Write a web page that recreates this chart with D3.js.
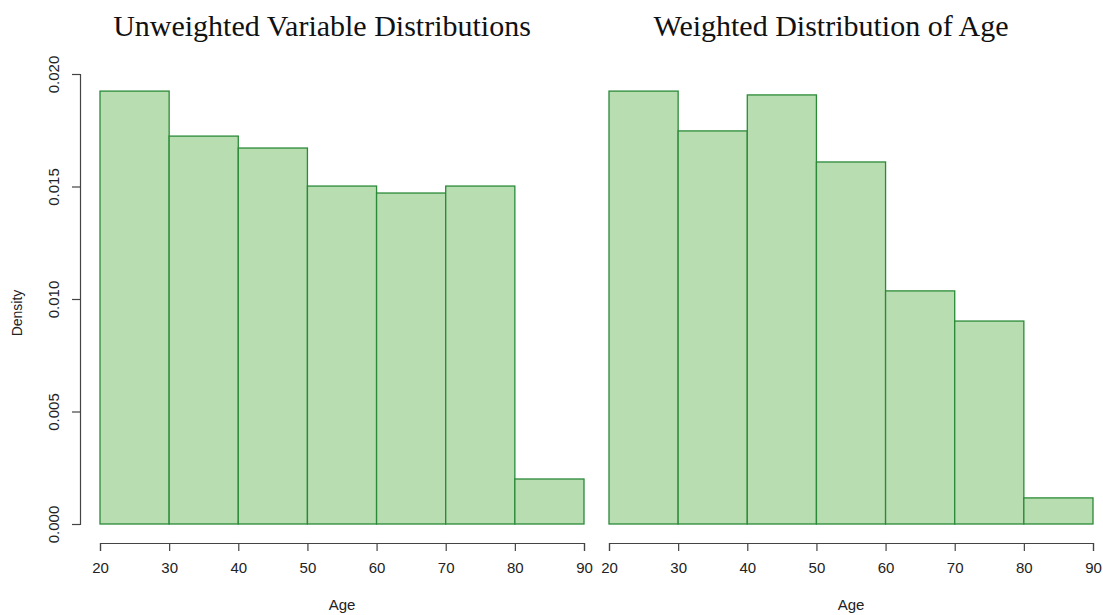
<!DOCTYPE html>
<html>
<head>
<meta charset="utf-8">
<script src="https://cdn.jsdelivr.net/npm/d3@7"></script>
<style>
  body { margin: 0; background: #fff; }
  svg { display: block; }
</style>
</head>
<body>
<svg id="chart" width="1103" height="615"></svg>
<script>
const binEdges = [20, 30, 40, 50, 60, 70, 80, 90];
const unweightedDensity = [0.01924, 0.01724, 0.01671, 0.01502, 0.01471, 0.01502, 0.00200];
const weightedDensity = [0.01924, 0.01747, 0.01907, 0.01609, 0.01036, 0.00902, 0.00116];
const xTicks = [20, 30, 40, 50, 60, 70, 80, 90];
const yTicks = [0.000, 0.005, 0.010, 0.015, 0.020];
const titles = ["Unweighted Variable Distributions", "Weighted Distribution of Age"];
const xLabel = "Age";
const yLabel = "Density";

const svg = d3.select("#chart");
const fill = "#b8ddb0";
const stroke = "#2a8a38";
const axisColor = "#444";
const sans = "Liberation Sans, Arial, sans-serif";

const y = d3.scaleLinear().domain([0, 0.02]).range([524, 74]);

const panels = [
  { data: unweightedDensity, x0: 100, x1: 584, title: titles[0], showY: true },
  { data: weightedDensity, x0: 609, x1: 1093, title: titles[1], showY: false }
];

panels.forEach(p => {
  const x = d3.scaleLinear().domain([20, 90]).range([p.x0, p.x1]);
  const g = svg.append("g");
  const bins = p.data.map((d, i) => ({ lo: binEdges[i], hi: binEdges[i + 1], v: d }));
  g.selectAll("rect").data(bins).join("rect")
    .attr("x", d => x(d.lo))
    .attr("y", d => y(d.v))
    .attr("width", d => x(d.hi) - x(d.lo))
    .attr("height", d => y(0) - y(d.v))
    .attr("fill", fill)
    .attr("stroke", stroke)
    .attr("stroke-width", 1.3);

  // x axis
  const xa = g.append("g").attr("transform", "translate(0,543)")
    .call(d3.axisBottom(x).tickValues(xTicks).tickSize(8).tickPadding(11).tickFormat(d3.format("d")));
  xa.select(".domain").attr("stroke", axisColor).attr("stroke-width", 1.2);
  xa.selectAll(".tick line").attr("stroke", axisColor).attr("stroke-width", 1.2);
  xa.selectAll(".tick text").attr("font-family", sans).attr("font-size", 15).attr("fill", "#222");

  g.append("text").attr("x", (p.x0 + p.x1) / 2).attr("y", 610)
    .attr("text-anchor", "middle")
    .attr("font-family", sans).attr("font-size", 15).attr("fill", "#222")
    .text(xLabel);

  g.append("text").attr("x", (p.x0 + p.x1) / 2 - 20).attr("y", 36)
    .attr("text-anchor", "middle")
    .attr("font-family", "Liberation Serif, Times New Roman, serif").attr("font-size", 30).attr("fill", "#111")
    .text(p.title);

  if (p.showY) {
    const ya = g.append("g").attr("transform", "translate(80,0)")
      .call(d3.axisLeft(y).tickValues(yTicks).tickSize(8).tickPadding(0).tickFormat(d3.format(".3f")));
    ya.select(".domain").attr("stroke", axisColor).attr("stroke-width", 1.2);
    ya.selectAll(".tick line").attr("stroke", axisColor).attr("stroke-width", 1.2);
    ya.selectAll(".tick text")
      .attr("font-family", sans).attr("font-size", 15).attr("fill", "#222")
      .attr("transform", "translate(-26,0) rotate(-90)")
      .attr("x", 0).attr("dy", "0.35em")
      .attr("text-anchor", "middle");
    g.append("text")
      .attr("transform", "translate(22,313) rotate(-90)")
      .attr("text-anchor", "middle")
      .attr("font-family", sans).attr("font-size", 14).attr("fill", "#222")
      .text(yLabel);
  }
});
</script>
</body>
</html>
